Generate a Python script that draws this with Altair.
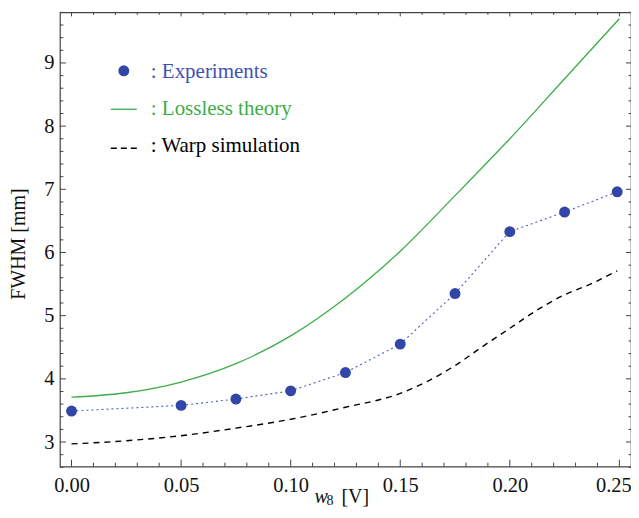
import altair as alt
import pandas as pd

# ---- data ----
exp_x = [0.0, 0.05, 0.075, 0.1, 0.125, 0.15, 0.175, 0.2, 0.225, 0.249]
exp_y = [3.49, 3.58, 3.68, 3.81, 4.10, 4.55, 5.35, 6.33, 6.64, 6.96]

theory_x = [0.0, 0.025, 0.05, 0.075, 0.1, 0.125, 0.15, 0.175, 0.2, 0.225, 0.25]
theory_y = [3.71, 3.78, 3.95, 4.24, 4.68, 5.28, 6.02, 6.90, 7.80, 8.75, 9.70]

warp_x = [0.0, 0.025, 0.05, 0.075, 0.1, 0.125, 0.15, 0.175, 0.1875, 0.2, 0.2125, 0.225, 0.2375, 0.249]
warp_y = [2.97, 3.02, 3.10, 3.22, 3.36, 3.55, 3.77, 4.21, 4.51, 4.80, 5.09, 5.33, 5.51, 5.71]

x_major = [0.0, 0.05, 0.10, 0.15, 0.20, 0.25]
x_minor = [i / 100 for i in range(0, 26) if i % 5 != 0]
y_major = [3, 4, 5, 6, 7, 8, 9]
y_minor = [round(2.6 + 0.2 * i, 1) for i in range(37) if abs((2.6 + 0.2 * i) - round(2.6 + 0.2 * i)) > 1e-6]

legend_labels = [": Experiments", ": Lossless theory", ": Warp simulation"]

W, H = 572, 455
FONT = "Liberation Serif"
BLUE = "#3246a8"
BLUE_TXT = "#3f52b4"
GREEN = "#3cad47"

xs = alt.Scale(domain=[-0.0053, 0.2553], nice=False, zero=False)
ys = alt.Scale(domain=[2.61, 9.80], nice=False, zero=False)

exp_df = pd.DataFrame({"x": exp_x, "y": exp_y})
th_df = pd.DataFrame({"x": theory_x, "y": theory_y})
wp_df = pd.DataFrame({"x": warp_x, "y": warp_y})

xaxis = alt.Axis(values=x_major, format=".2f", grid=False, ticks=False, domain=False,
                 labelFont=FONT, labelFontSize=20.5, labelColor="#111", labelPadding=9, title=None,
                 labelOffset={"condition": {"test": "datum.value > 0.24", "value": -6}, "value": 0})
yaxis = alt.Axis(values=y_major, format="d", grid=False, ticks=False, domain=False,
                 labelFont=FONT, labelFontSize=20.5, labelColor="#111", labelPadding=6, title=None)

base_axes = alt.Chart(exp_df).mark_point(opacity=0).encode(
    x=alt.X("x:Q", scale=xs, axis=xaxis),
    y=alt.Y("y:Q", scale=ys, axis=yaxis),
)

theory = alt.Chart(th_df).mark_line(color=GREEN, strokeWidth=1.3, interpolate="monotone").encode(
    x=alt.X("x:Q", scale=xs), y=alt.Y("y:Q", scale=ys))
warp = alt.Chart(wp_df).mark_line(color="black", strokeWidth=1.4, strokeDash=[6, 5],
                                   interpolate="monotone").encode(
    x=alt.X("x:Q", scale=xs), y=alt.Y("y:Q", scale=ys))
exp_line = alt.Chart(exp_df).mark_line(color="#4a5fd0", strokeWidth=1.1, strokeDash=[2, 3]).encode(
    x=alt.X("x:Q", scale=xs), y=alt.Y("y:Q", scale=ys))
exp_pts = alt.Chart(exp_df).mark_circle(color=BLUE, size=120, opacity=1).encode(
    x=alt.X("x:Q", scale=xs), y=alt.Y("y:Q", scale=ys))

# ---- inward ticks on all four sides ----
def xticks(vals, y0, y1):
    return alt.Chart(pd.DataFrame({"v": vals})).mark_rule(color="#444", strokeWidth=1).encode(
        x=alt.X("v:Q", scale=xs), y=alt.value(y0), y2=alt.value(y1))

def yticks(vals, x0, x1):
    return alt.Chart(pd.DataFrame({"v": vals})).mark_rule(color="#444", strokeWidth=1).encode(
        y=alt.Y("v:Q", scale=ys), x=alt.value(x0), x2=alt.value(x1))

ticks = [
    xticks(x_major, H, H - 7), xticks(x_minor, H, H - 4),
    xticks(x_major, 0, 4), xticks(x_minor, 0, 2.5),
    yticks(y_major, 0, 6), yticks(y_minor, 0, 3.5),
    yticks(y_major, W, W - 5), yticks(y_minor, W, W - 2.5),
]

# ---- legend ----
leg_df = pd.DataFrame({"label": legend_labels})
leg_dot = alt.Chart(leg_df.iloc[[0]]).mark_circle(color=BLUE, size=120, opacity=1).encode(
    x=alt.value(64), y=alt.value(58.5))
leg_green = alt.Chart(leg_df.iloc[[1]]).mark_rule(color=GREEN, strokeWidth=1.3).encode(
    x=alt.value(51), x2=alt.value(77), y=alt.value(97))
leg_dash = alt.Chart(leg_df.iloc[[2]]).mark_rule(color="black", strokeWidth=1.4, strokeDash=[6, 4]).encode(
    x=alt.value(51), x2=alt.value(78), y=alt.value(136))

def leg_text(i, color, y):
    return alt.Chart(leg_df.iloc[[i]]).mark_text(font=FONT, fontSize=21, color=color, align="left",
                                                 baseline="alphabetic").encode(
        x=alt.value(91), y=alt.value(y), text="label:N")

leg_t1 = leg_text(0, BLUE_TXT, 66)
leg_t2 = leg_text(1, GREEN, 103)
leg_t3 = leg_text(2, "black", 140)

# ---- axis titles ----
title_df = pd.DataFrame({"w": ["w"], "s": ["8"], "u": ["[V]"], "yt": ["FWHM [mm]"]})
xt_w = alt.Chart(title_df).mark_text(font=FONT, fontSize=20, fontStyle="italic", align="left",
                                     baseline="alphabetic", color="#111").encode(
    x=alt.value(255), y=alt.value(491), text="w:N")
xt_s = alt.Chart(title_df).mark_text(font=FONT, fontSize=14, align="left",
                                     baseline="alphabetic", color="#111").encode(
    x=alt.value(267), y=alt.value(493), text="s:N")
xt_u = alt.Chart(title_df).mark_text(font=FONT, fontSize=20, align="left",
                                     baseline="alphabetic", color="#111").encode(
    x=alt.value(282), y=alt.value(491), text="u:N")
yt = alt.Chart(title_df).mark_text(font=FONT, fontSize=20, angle=270, align="center",
                                   baseline="middle", color="#111").encode(
    x=alt.value(-41), y=alt.value(232), text="yt:N")

chart = alt.layer(
    base_axes, theory, warp, exp_line, exp_pts, *ticks,
    leg_dot, leg_green, leg_dash, leg_t1, leg_t2, leg_t3,
    xt_w, xt_s, xt_u, yt,
).properties(
    width=W, height=H,
    autosize=alt.AutoSizeParams(type="none"),
    padding={"left": 52, "top": 4, "right": 0, "bottom": 48},
    background="white",
).configure_view(stroke="#444", strokeWidth=1.2)

chart.save("out.html", embed_options={"renderer": "svg", "actions": False})
